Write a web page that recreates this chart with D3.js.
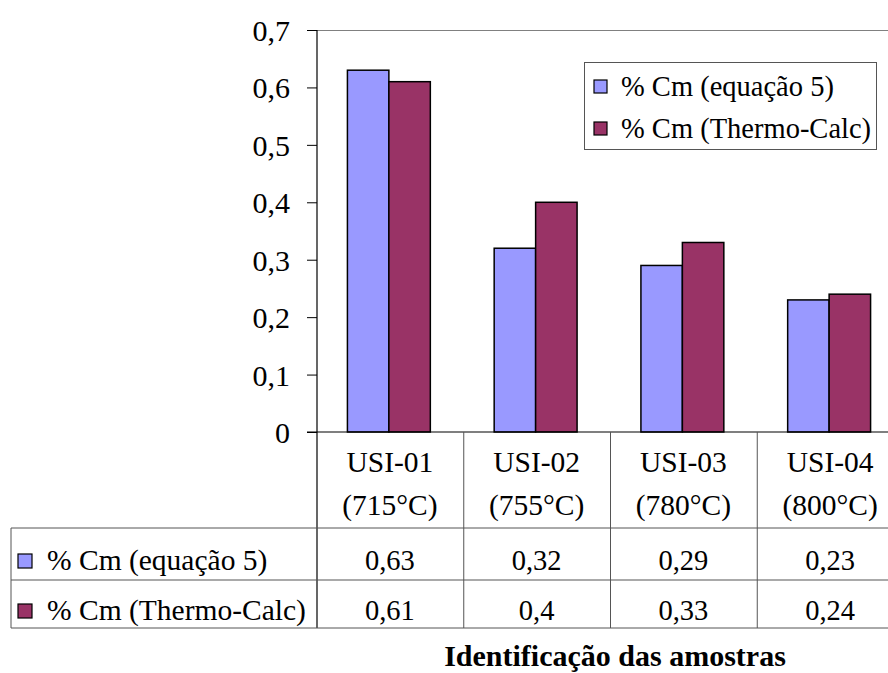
<!DOCTYPE html>
<html><head><meta charset="utf-8">
<script src="https://cdn.jsdelivr.net/npm/d3@7"></script>
<style>body{margin:0;background:#fff}svg{display:block}</style>
</head><body>
<script>
const categories = ["USI-01", "USI-02", "USI-03", "USI-04"];
const temps = ["(715°C)", "(755°C)", "(780°C)", "(800°C)"];
const seriesNames = ["% Cm (equação 5)", "% Cm (Thermo-Calc)"];
const equacao5 = [0.63, 0.32, 0.29, 0.23];
const thermoCalc = [0.61, 0.40, 0.33, 0.24];
const tableLabels1 = ["0,63", "0,32", "0,29", "0,23"];
const tableLabels2 = ["0,61", "0,4", "0,33", "0,24"];
const yTicks = [0, 0.1, 0.2, 0.3, 0.4, 0.5, 0.6, 0.7];
const colors = ["#9999FF", "#993366"];
const xTitle = "Identificação das amostras";

const FONT = "Liberation Serif";
const W = 888, H = 673;
const svg = d3.select("body").append("svg").attr("width", W).attr("height", H);
function txt(x0, y0, s, size, anchor) {
  return svg.append("text").attr("x", x0).attr("y", y0).attr("dy", "0.35em")
    .attr("text-anchor", anchor || "start").attr("font-family", FONT).attr("font-size", size)
    .attr("fill", "#000").text(s);
}

const plotL = 317, plotR = 904, plotT = 30, plotB = 432;
const x = d3.scaleBand().domain(categories).range([plotL, plotR]);
const y = d3.scaleLinear().domain([0, 0.7]).range([plotB, plotT]);
const xs = d3.scaleBand().domain([0, 1]).range([0, x.bandwidth()]).paddingOuter(0.77).paddingInner(0);

// plot area top border
svg.append("line").attr("x1", plotL).attr("x2", plotR).attr("y1", plotT + 0.5).attr("y2", plotT + 0.5)
  .attr("stroke", "#808080").attr("stroke-width", 1);

// bars
const series = [equacao5, thermoCalc];
series.forEach((vals, si) => {
  svg.append("g").selectAll("rect").data(vals).join("rect")
    .attr("x", (d, i) => x(categories[i]) + xs(si) - 1.5)
    .attr("width", xs.bandwidth())
    .attr("y", d => y(d))
    .attr("height", d => y(0) - y(d))
    .attr("fill", colors[si]).attr("stroke", "#000").attr("stroke-width", 1.5);
});

// y axis
const yAxis = d3.axisLeft(y).tickValues(yTicks).tickSize(10).tickPadding(17)
  .tickFormat(d => d === 0 ? "0" : d3.format(".1f")(d).replace(".", ","));
const ga = svg.append("g").attr("transform", `translate(${plotL},0)`).call(yAxis);
ga.attr("font-family", FONT).attr("font-size", 30);
ga.select(".domain").remove();
ga.selectAll(".tick line").attr("stroke", "#000");
ga.selectAll("text").attr("font-family", FONT).attr("font-size", 30).attr("fill", "#000").attr("dy", "0.35em");
svg.append("line").attr("x1", plotL).attr("x2", plotL).attr("y1", plotT).attr("y2", 628).attr("stroke", "#000").attr("stroke-width", 1.2);
// x axis baseline
svg.append("line").attr("x1", plotL - 10).attr("x2", plotR).attr("y1", plotB).attr("y2", plotB).attr("stroke", "#000").attr("stroke-width", 1.2);

// data table
const tTop = 528, tMid = 580, tBot = 628, tLeft = 11;
const gridStroke = "#555";
categories.forEach((c, i) => {
  const xl = x(c) + x.bandwidth();
  svg.append("line").attr("x1", xl).attr("x2", xl).attr("y1", plotB).attr("y2", tBot).attr("stroke", gridStroke);
  const cx = x(c) + x.bandwidth() / 2 - 0.5;
  txt(cx, 462, c, 29.5, "middle");
  txt(cx, 505, temps[i], 29.5, "middle");
  txt(cx, 560, tableLabels1[i], 28.5, "middle");
  txt(cx, 610, tableLabels2[i], 28.5, "middle");
});
[tTop, tMid, tBot].forEach(yy => {
  svg.append("line").attr("x1", tLeft).attr("x2", plotR).attr("y1", yy).attr("y2", yy).attr("stroke", gridStroke);
});
svg.append("line").attr("x1", tLeft).attr("x2", tLeft).attr("y1", tTop).attr("y2", tBot).attr("stroke", gridStroke);

// table row legends
[560, 610].forEach((yy, si) => {
  svg.append("rect").attr("x", 18).attr("y", yy - 6).attr("width", 14).attr("height", 14)
    .attr("fill", colors[si]).attr("stroke", "#000").attr("stroke-width", 1.2);
  txt(47, yy, seriesNames[si], 29.5);
});

// legend
svg.append("rect").attr("x", 584.5).attr("y", 62.5).attr("width", 292).attr("height", 87).attr("fill", "#fff").attr("stroke", "#555");
[86, 128].forEach((yy, si) => {
  svg.append("rect").attr("x", 594).attr("y", yy - 6).attr("width", 13).attr("height", 13)
    .attr("fill", colors[si]).attr("stroke", "#000").attr("stroke-width", 1.2);
  txt(621, yy, seriesNames[si], 28.5);
});

// x title
svg.append("text").attr("x", 615).attr("y", 666).attr("text-anchor", "middle")
  .attr("font-family", FONT).attr("font-size", 30).attr("font-weight", "bold").attr("fill", "#000").text(xTitle);
</script>
</body></html>
